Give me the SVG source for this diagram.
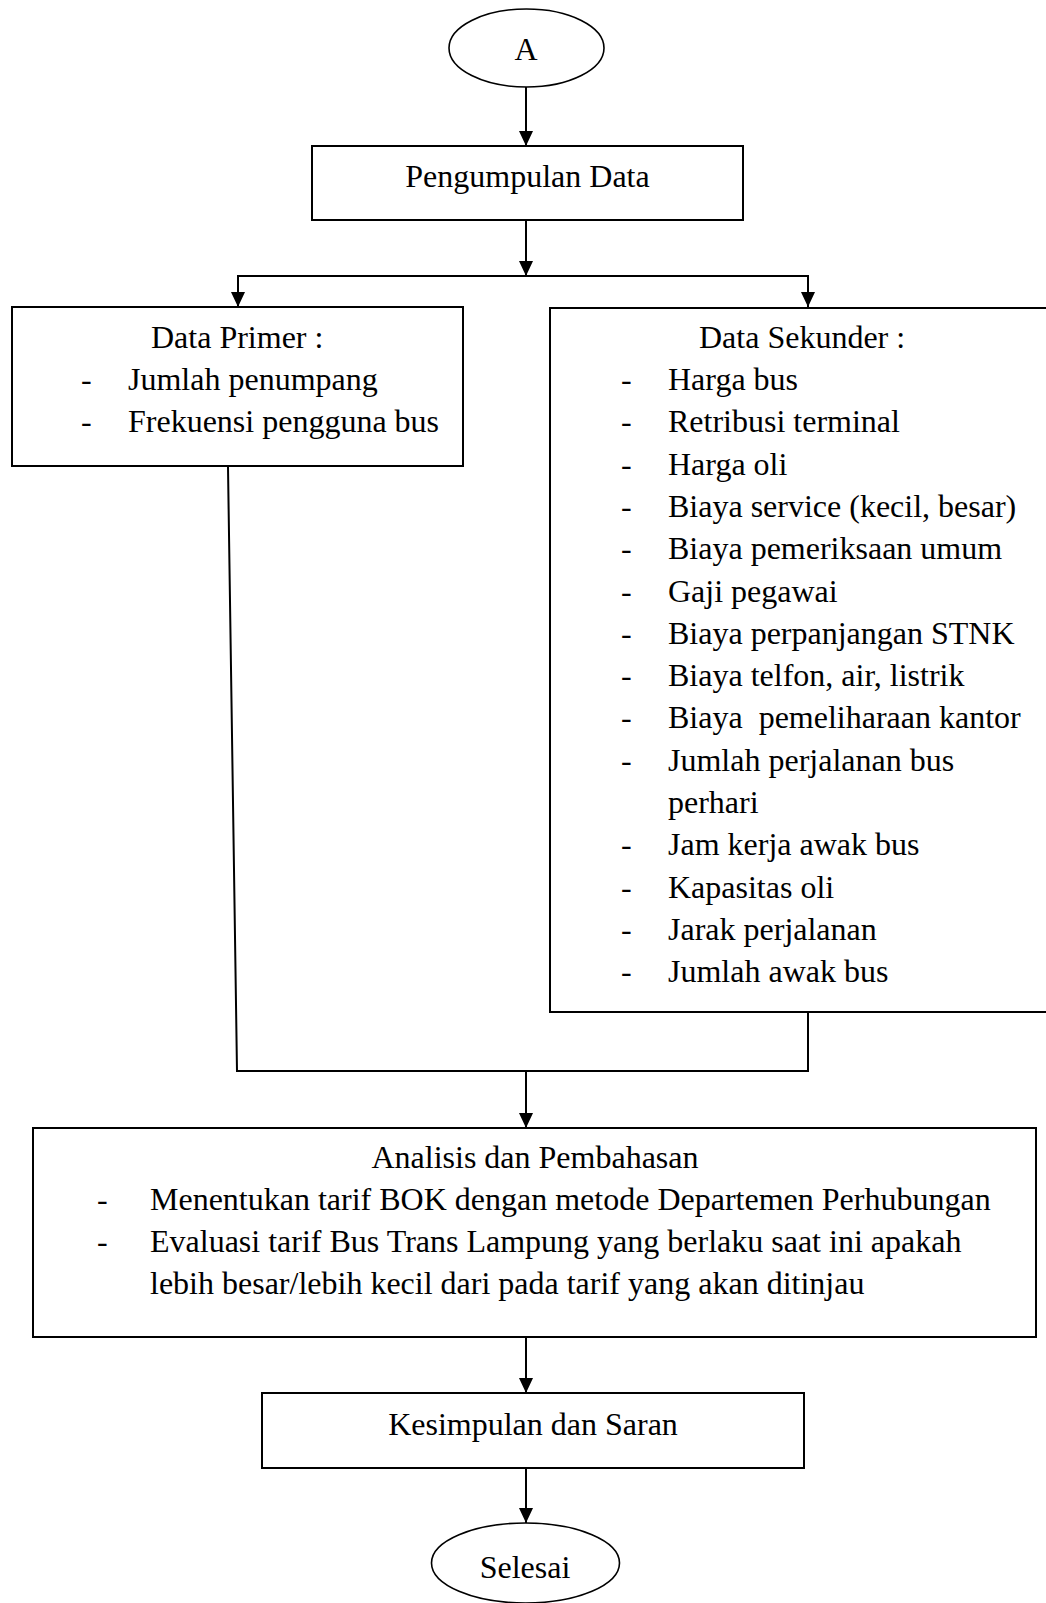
<svg xmlns="http://www.w3.org/2000/svg" width="1046" height="1603" viewBox="0 0 1046 1603">
<style>
text{font-family:"Liberation Serif","Times New Roman",serif;font-size:32px;fill:#000;white-space:pre}
.c{text-anchor:middle}
.box{fill:#fff;stroke:#000;stroke-width:2}
.ell{fill:#fff;stroke:#000;stroke-width:1.6}
.ln{fill:none;stroke:#000;stroke-width:2}
</style>
<defs>
<marker id="arr" markerUnits="userSpaceOnUse" markerWidth="16" markerHeight="16" viewBox="0 0 16 16" refX="15" refY="8" orient="auto">
<path d="M0,1 L15,8 L0,15 Z" fill="#000"/>
</marker>
</defs>
<rect width="1046" height="1603" fill="#fff"/>
<g id="connectors">
<line class="ln" x1="526" y1="87" x2="526" y2="146" marker-end="url(#arr)"/>
<line class="ln" x1="526" y1="220" x2="526" y2="276" marker-end="url(#arr)"/>
<line class="ln" x1="237" y1="276" x2="809" y2="276"/>
<line class="ln" x1="238" y1="276" x2="238" y2="307" marker-end="url(#arr)"/>
<line class="ln" x1="808" y1="276" x2="808" y2="307" marker-end="url(#arr)"/>
<polyline class="ln" points="228,467 237,1071 808,1071 808,1012"/>
<line class="ln" x1="526" y1="1071" x2="526" y2="1128" marker-end="url(#arr)"/>
<line class="ln" x1="526" y1="1337" x2="526" y2="1393" marker-end="url(#arr)"/>
<line class="ln" x1="526" y1="1468" x2="526" y2="1523" marker-end="url(#arr)"/>
</g>
<g id="start">
<ellipse class="ell" cx="526.5" cy="48" rx="77.5" ry="39"/>
<text class="c" x="526" y="60">A</text>
</g>
<g id="pengumpulan">
<rect class="box" x="312" y="146" width="431" height="74"/>
<text class="c" x="527.5" y="187">Pengumpulan Data</text>
</g>
<g id="primer">
<rect class="box" x="12" y="307" width="451" height="159"/>
<text x="151" y="348">Data Primer :</text>
<text x="81" y="390">-</text><text x="128" y="390">Jumlah penumpang</text>
<text x="81" y="432">-</text><text x="128" y="432">Frekuensi pengguna bus</text>
</g>
<g id="sekunder">
<path class="ln" d="M1050,308 H550 V1012 H1050" style="fill:#fff"/>
<text x="699" y="348">Data Sekunder :</text>
<text x="621" y="390">-</text><text x="668" y="390">Harga bus</text>
<text x="621" y="432.3">-</text><text x="668" y="432.3">Retribusi terminal</text>
<text x="621" y="474.6">-</text><text x="668" y="474.6">Harga oli</text>
<text x="621" y="516.9">-</text><text x="668" y="516.9">Biaya service (kecil, besar)</text>
<text x="621" y="559.2">-</text><text x="668" y="559.2">Biaya pemeriksaan umum</text>
<text x="621" y="601.5">-</text><text x="668" y="601.5">Gaji pegawai</text>
<text x="621" y="643.8">-</text><text x="668" y="643.8">Biaya perpanjangan STNK</text>
<text x="621" y="686.1">-</text><text x="668" y="686.1">Biaya telfon, air, listrik</text>
<text x="621" y="728.4">-</text><text x="668" y="728.4">Biaya  pemeliharaan kantor</text>
<text x="621" y="770.7">-</text><text x="668" y="770.7">Jumlah perjalanan bus</text>
<text x="668" y="813">perhari</text>
<text x="621" y="855.3">-</text><text x="668" y="855.3">Jam kerja awak bus</text>
<text x="621" y="897.6">-</text><text x="668" y="897.6">Kapasitas oli</text>
<text x="621" y="939.9">-</text><text x="668" y="939.9">Jarak perjalanan</text>
<text x="621" y="982.2">-</text><text x="668" y="982.2">Jumlah awak bus</text>
</g>
<g id="analisis">
<rect class="box" x="33" y="1128" width="1003" height="209"/>
<text class="c" x="535" y="1168">Analisis dan Pembahasan</text>
<text x="97" y="1210">-</text><text x="150" y="1210">Menentukan tarif BOK dengan metode Departemen Perhubungan</text>
<text x="97" y="1252">-</text><text x="150" y="1252">Evaluasi tarif Bus Trans Lampung yang berlaku saat ini apakah</text>
<text x="150" y="1294">lebih besar/lebih kecil dari pada tarif yang akan ditinjau</text>
</g>
<g id="kesimpulan">
<rect class="box" x="262" y="1393" width="542" height="75"/>
<text class="c" x="533" y="1435">Kesimpulan dan Saran</text>
</g>
<g id="selesai">
<ellipse class="ell" cx="525.5" cy="1563" rx="94" ry="40"/>
<text class="c" x="525" y="1578">Selesai</text>
</g>
</svg>
